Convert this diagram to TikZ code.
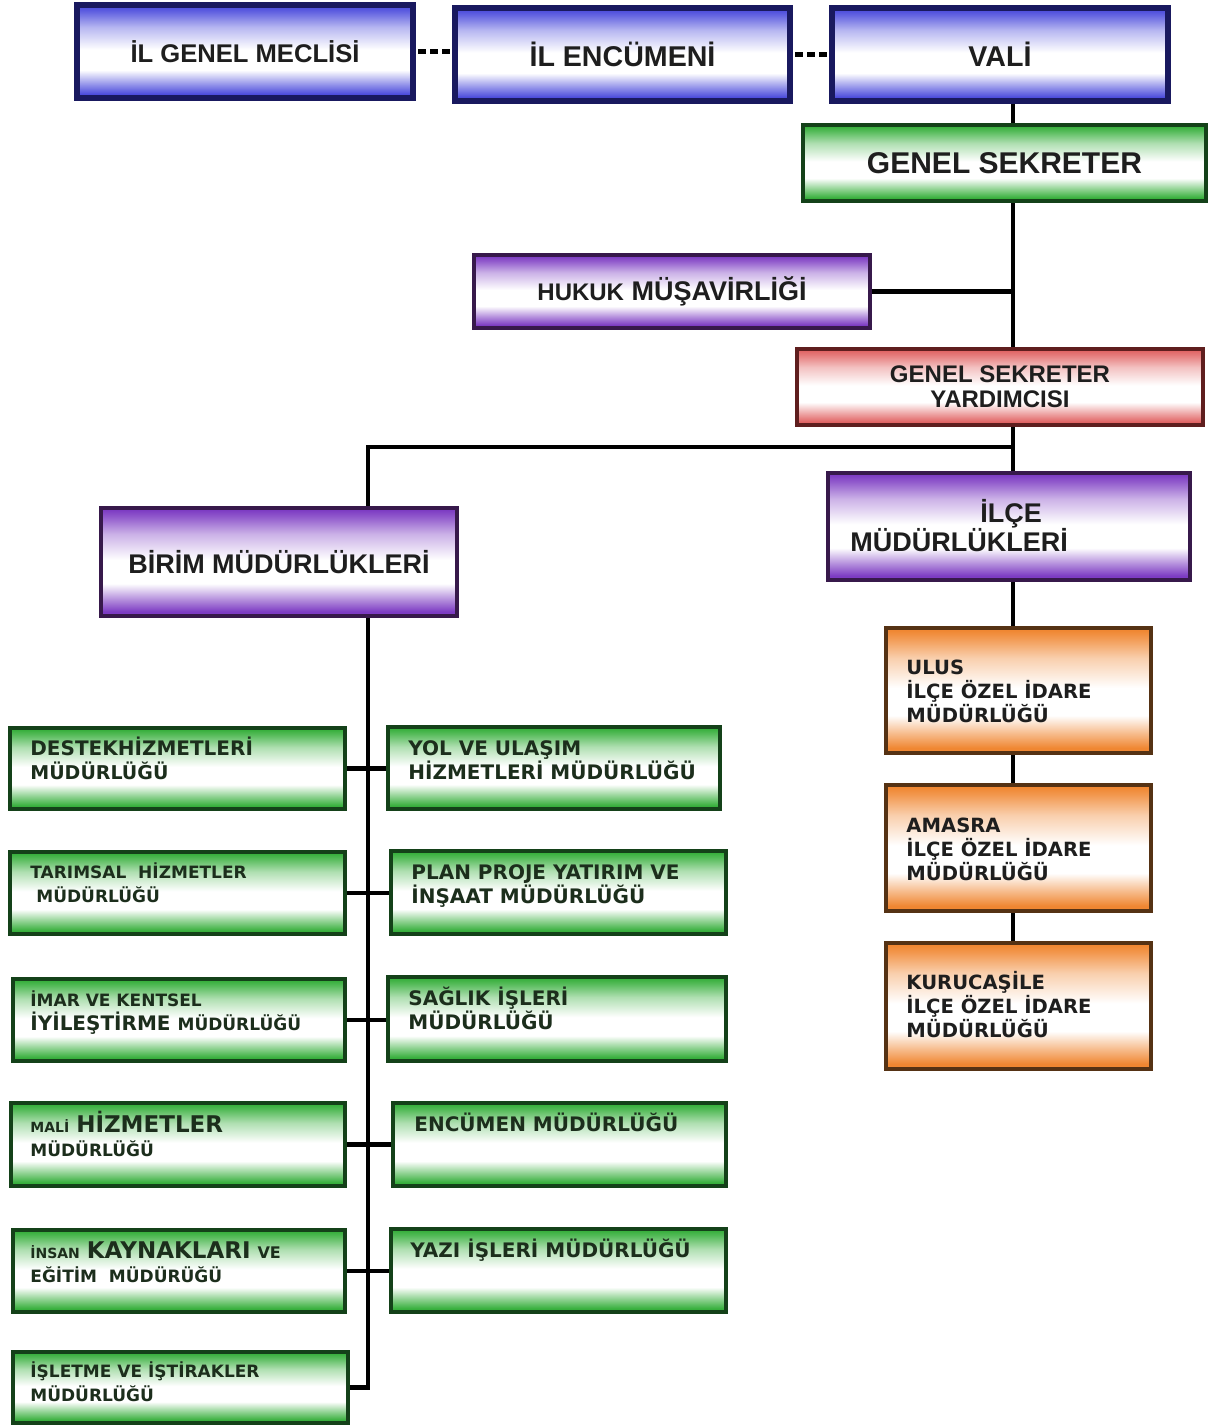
\documentclass[tikz,border=0pt]{standalone}
\usepackage{fontspec}
\setmainfont{Liberation Sans}
\newfontfamily\dvs{DejaVu Sans}
\definecolor{bluec}{RGB}{75,75,220}
\definecolor{greenc}{RGB}{55,175,60}
\definecolor{purplec}{RGB}{125,60,195}
\definecolor{pinkc}{RGB}{225,100,100}
\definecolor{orangec}{RGB}{240,135,50}
\definecolor{blueb}{RGB}{25,25,95}
\definecolor{greenb}{RGB}{20,65,25}
\definecolor{purpleb}{RGB}{55,25,75}
\definecolor{pinkb}{RGB}{95,30,30}
\definecolor{orangeb}{RGB}{85,50,20}
\definecolor{txtc}{RGB}{30,30,30}
\definecolor{gtxt}{RGB}{28,46,28}
\newcommand\mkshade[2]{\pgfdeclareverticalshading{#1}{100bp}{color(0bp)=(#2); color(27bp)=(#2); color(33bp)=(#2!55!white); color(40bp)=(white); color(51bp)=(white); color(63bp)=(#2!40!white); color(71bp)=(#2!85!white); color(74bp)=(#2); color(100bp)=(#2)}}
\mkshade{bluesh}{bluec}
\mkshade{greensh}{greenc}
\mkshade{purplesh}{purplec}
\mkshade{pinksh}{pinkc}
\mkshade{orangesh}{orangec}
\newcommand\mkbox[7]{\node[#2, minimum width={(#5-#3)*0.5pt}, minimum height={(#6-#4)*0.5pt}] (#1) at ({(#3+#5)/2},{(#4+#6)/2}) {#7};}
\newcommand\st{\rule{0pt}{10pt}}
\newcommand\sm{\fontsize{8.5}{12}\selectfont}
\newcommand\fs[1]{\fontsize{#1}{12}\selectfont}
\tikzset{
 box/.style={rectangle, inner sep=0pt, align=center, text=txtc, font=\bfseries},
 bluebox/.style={box, draw=blueb, line width=3pt, shading=bluesh},
 greenbox/.style={box, draw=greenb, line width=2.2pt, shading=greensh},
 purplebox/.style={box, draw=purpleb, line width=2.2pt, shading=purplesh},
 pinkbox/.style={box, draw=pinkb, line width=2.2pt, shading=pinksh},
 orangebox/.style={box, draw=orangeb, line width=2.2pt, shading=orangesh},
 gtext/.style={anchor=north west, inner sep=0pt, align=left, text=gtxt, font=\dvs\bfseries\fontsize{10}{12}\selectfont},
 otext/.style={anchor=north west, inner sep=0pt, align=left, text=txtc, font=\dvs\bfseries\fontsize{9.8}{12}\selectfont},
 conn/.style={draw=black, line width=2.2pt},
 dashconn/.style={draw=black, line width=2.6pt, dash pattern=on 4pt off 2pt, shorten <=1pt, shorten >=1pt},
}
\begin{document}
\begin{tikzpicture}[x=0.5pt,y=-0.5pt]
\useasboundingbox (0,0) rectangle (1209,1425);
\fill[white] (0,0) rectangle (1209,1425);
% top row
\mkbox{il}{bluebox,font=\bfseries\fontsize{12.8}{15}\selectfont}{77}{5}{413}{98}{İL GENEL MECLİSİ}
\mkbox{enc}{bluebox,font=\bfseries\fontsize{14.3}{16}\selectfont}{455}{8}{790}{101}{İL ENCÜMENİ}
\mkbox{vali}{bluebox,font=\bfseries\fontsize{14.3}{16}\selectfont}{832}{8}{1168}{101}{VALİ}
\mkbox{gs}{greenbox,font=\bfseries\fontsize{15}{18}\selectfont}{803}{125}{1206}{201}{GENEL SEKRETER}
\mkbox{huk}{purplebox,font=\bfseries\fontsize{13.5}{16}\selectfont}{474}{255}{870}{328}{{\fontsize{12}{16}\selectfont HUKUK} MÜŞAVİRLİĞİ}
\mkbox{gsy}{pinkbox,font=\bfseries\fontsize{12}{12.5}\selectfont}{797}{349}{1203}{425}{GENEL SEKRETER\\YARDIMCISI}
\mkbox{birim}{purplebox,font=\bfseries\fontsize{13.5}{16}\selectfont}{101}{508}{457}{616}{BİRİM MÜDÜRLÜKLERİ}
\mkbox{ilce}{purplebox}{828}{473}{1190}{580}{}
\node[anchor=north west, inner sep=0pt, align=left, text=txtc, font=\bfseries\fontsize{13.5}{14.5}\selectfont] (ilcet) at (850,496) {\rule{0pt}{13pt}\hspace*{65pt}İLÇE\\MÜDÜRLÜKLERİ};
% district boxes
\mkbox{ulus}{orangebox}{886}{628}{1151}{753}{}
\mkbox{amasra}{orangebox}{886}{785}{1151}{911}{}
\mkbox{kuru}{orangebox}{886}{943}{1151}{1069}{}
\node[otext] (ulust) at (906,654) {\st ULUS\\İLÇE ÖZEL İDARE\\MÜDÜRLÜĞÜ};
\node[otext] (amasrat) at (906,812) {\st AMASRA\\İLÇE ÖZEL İDARE\\MÜDÜRLÜĞÜ};
\node[otext] (kurut) at (906,969) {\st KURUCAŞİLE\\İLÇE ÖZEL İDARE\\MÜDÜRLÜĞÜ};
% left column
\mkbox{l1}{greenbox}{10}{728}{345}{809}{}
\mkbox{l2}{greenbox}{10}{852}{345}{934}{}
\mkbox{l3}{greenbox}{13}{979}{345}{1061}{}
\mkbox{l4}{greenbox}{11}{1103}{345}{1186}{}
\mkbox{l5}{greenbox}{13}{1230}{345}{1312}{}
\mkbox{l6}{greenbox}{13}{1352}{348}{1423}{}
\node[gtext] (l1t) at (30,735) {\st DESTEKHİZMETLERİ\\{\fs{9.5}MÜDÜRLÜĞÜ}};
\node[gtext] (l2t) at (30,858) {\st{\sm TARIMSAL\ \ HİZMETLER}\\\hspace*{3pt}{\sm MÜDÜRLÜĞÜ}};
\node[gtext] (l3t) at (30,986) {\st{\sm İMAR VE KENTSEL}\\İYİLEŞTİRME {\sm MÜDÜRLÜĞÜ}};
\node[gtext] (l4t) at (30,1111) {\st{\fs{7}MALİ} {\fs{11.5}HİZMETLER}\\{\sm MÜDÜRLÜĞÜ}};
\node[gtext] (l5t) at (30,1238) {\st{\fs{7}İNSAN} {\fs{11.5}KAYNAKLARI} {\fs{8}VE}\\{\sm EĞİTİM\ \ MÜDÜRÜĞÜ}};
\node[gtext] (l6t) at (30,1357) {\st{\sm İŞLETME VE İŞTİRAKLER}\\{\sm MÜDÜRLÜĞÜ}};
% right column
\mkbox{r1}{greenbox}{388}{727}{720}{809}{}
\mkbox{r2}{greenbox}{391}{851}{726}{934}{}
\mkbox{r3}{greenbox}{388}{977}{726}{1061}{}
\mkbox{r4}{greenbox}{393}{1103}{726}{1186}{}
\mkbox{r5}{greenbox}{391}{1229}{726}{1312}{}
\node[gtext] (r1t) at (408,735) {\st YOL VE ULAŞIM\\HİZMETLERİ MÜDÜRLÜĞÜ};
\node[gtext] (r2t) at (411,859) {\st PLAN PROJE YATIRIM VE\\İNŞAAT MÜDÜRLÜĞÜ};
\node[gtext] (r3t) at (408,985) {\st SAĞLIK İŞLERİ\\MÜDÜRLÜĞÜ};
\node[gtext] (r4t) at (414,1111) {\st ENCÜMEN MÜDÜRLÜĞÜ};
\node[gtext] (r5t) at (410,1237) {\st YAZI İŞLERİ MÜDÜRLÜĞÜ};
% connectors
\coordinate (rx) at (1013,0);
\coordinate (sx) at (368,0);
\coordinate (br) at (1013,447);
\draw[dashconn] (il.east) -- (il.east -| enc.west);
\draw[dashconn] (enc.east) -- (enc.east -| vali.west);
\draw[conn] (vali.south -| rx) -- (gs.north -| rx);
\draw[conn] (gs.south -| rx) -- (gsy.north -| rx);
\draw[conn] (huk.east) -- (huk.east -| rx);
\draw[conn] (gsy.south -| rx) -- (ilce.north -| rx);
\draw[conn] (br) -| (birim.north -| sx);
\draw[conn] (ilce.south -| rx) -- (ulus.north -| rx);
\draw[conn] (ulus.south -| rx) -- (amasra.north -| rx);
\draw[conn] (amasra.south -| rx) -- (kuru.north -| rx);
\draw[conn] (birim.south -| sx) |- (l6.east);
\draw[conn] (l1.east) -- (l1.east -| r1.west);
\draw[conn] (l2.east) -- (l2.east -| r2.west);
\draw[conn] (l3.east) -- (l3.east -| r3.west);
\draw[conn] (l4.east) -- (l4.east -| r4.west);
\draw[conn] (l5.east) -- (l5.east -| r5.west);
\end{tikzpicture}
\end{document}
